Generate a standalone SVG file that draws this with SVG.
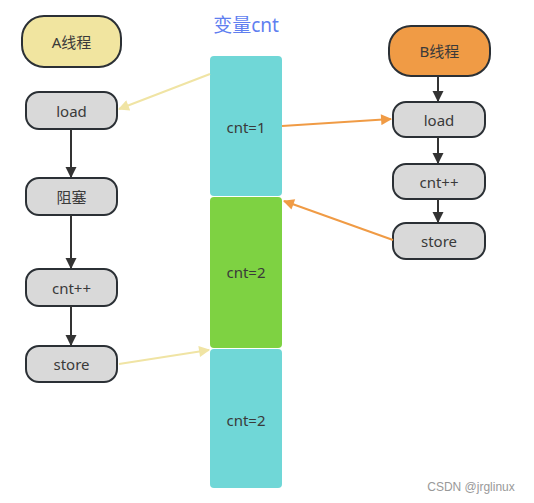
<svg xmlns="http://www.w3.org/2000/svg" width="534" height="503" viewBox="0 0 534 503">
<style>
.n{fill:#d9d9d9;stroke:#2b3035;stroke-width:2}
.t{font-family:"Noto Sans","Noto Sans CJK SC",sans-serif;font-size:15px;fill:#3a3a3a;text-anchor:middle;dominant-baseline:central}
.k{stroke:#333;stroke-width:2;fill:none}
.y{stroke:#f0e4a4;stroke-width:2;fill:none}
.o{stroke:#f09b45;stroke-width:2;fill:none}
</style>
<defs>
<marker id="ak" viewBox="0 0 10 10" refX="9" refY="5" markerWidth="5.5" markerHeight="6" orient="auto" markerUnits="strokeWidth"><path d="M0,0L10,5L0,10z" fill="#333"/></marker>
<marker id="ay" viewBox="0 0 10 10" refX="9" refY="5" markerWidth="8" markerHeight="5.5" orient="auto" markerUnits="strokeWidth"><path d="M0,0L10,5L0,10z" fill="#f0e4a4"/></marker>
<marker id="ao" viewBox="0 0 10 10" refX="9" refY="5" markerWidth="8" markerHeight="5.5" orient="auto" markerUnits="strokeWidth"><path d="M0,0L10,5L0,10z" fill="#f09b45"/></marker>
</defs>
<rect width="534" height="503" fill="#fff"/>
<text x="246" y="25" font-family="Noto Sans,Noto Sans CJK SC,sans-serif" font-size="19" fill="#5f7ff0" text-anchor="middle" dominant-baseline="central">变量cnt</text>
<g id="mem1"><rect x="210" y="56" width="72" height="140" rx="4" fill="#70d7d7"/><text class="t" x="246" y="127">cnt=1</text></g>
<g id="mem2"><rect x="210" y="197" width="72" height="151" rx="4" fill="#7ed242"/><text class="t" x="246" y="272">cnt=2</text></g>
<g id="mem3"><rect x="210" y="349" width="72" height="139" rx="4" fill="#70d7d7"/><text class="t" x="246" y="420">cnt=2</text></g>
<g id="a_thread"><rect x="22" y="16" width="99" height="51" rx="22" fill="#f1e5a0" stroke="#2b3035" stroke-width="2"/><text class="t" x="71.5" y="42">A线程</text></g>
<g id="a_load"><rect class="n" x="26" y="92" width="91" height="37" rx="13"/><text class="t" x="71.5" y="110.5">load</text></g>
<g id="a_block"><rect class="n" x="26" y="178" width="91" height="37" rx="13"/><text class="t" x="71.5" y="196.5">阻塞</text></g>
<g id="a_inc"><rect class="n" x="26" y="269" width="91" height="37" rx="13"/><text class="t" x="71.5" y="287.5">cnt++</text></g>
<g id="a_store"><rect class="n" x="26" y="346" width="91" height="36" rx="13"/><text class="t" x="71.5" y="364">store</text></g>
<g id="b_thread"><rect x="389" y="26" width="101" height="50" rx="22" fill="#f09b45" stroke="#2b3035" stroke-width="2"/><text class="t" x="439.5" y="51">B线程</text></g>
<g id="b_load"><rect class="n" x="393" y="102" width="92" height="35" rx="13"/><text class="t" x="439" y="119.5">load</text></g>
<g id="b_inc"><rect class="n" x="393" y="164" width="92" height="35" rx="13"/><text class="t" x="439" y="181.5">cnt++</text></g>
<g id="b_store"><rect class="n" x="393" y="223" width="92" height="36" rx="13"/><text class="t" x="439" y="241">store</text></g>
<g id="connectors">
<path class="k" d="M71,129V177" marker-end="url(#ak)"/>
<path class="k" d="M71,215V268" marker-end="url(#ak)"/>
<path class="k" d="M71,306V345" marker-end="url(#ak)"/>
<path class="k" d="M438,76V101" marker-end="url(#ak)"/>
<path class="k" d="M438,137V163" marker-end="url(#ak)"/>
<path class="k" d="M438,199V222" marker-end="url(#ak)"/>
<path class="y" d="M210,74L119,109" marker-end="url(#ay)"/>
<path class="y" d="M119,364L209,350" marker-end="url(#ay)"/>
<path class="o" d="M282,126L391,119" marker-end="url(#ao)"/>
<path class="o" d="M393,240L284,201" marker-end="url(#ao)"/>
</g>
<text x="471" y="487" font-family="Liberation Sans,sans-serif" font-size="12" fill="#999" text-anchor="middle" dominant-baseline="central">CSDN @jrglinux</text>
</svg>
